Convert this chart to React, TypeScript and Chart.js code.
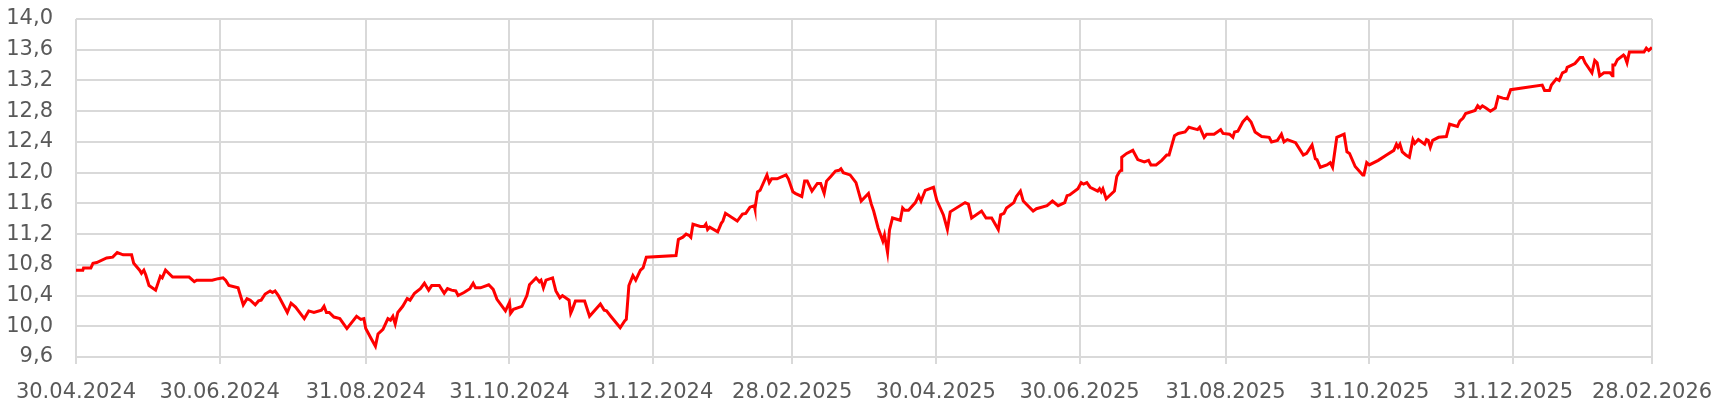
import React, { useEffect, useRef } from "react";
import { Chart, registerables } from "chart.js";

Chart.register(...registerables);

// x values: days elapsed since 30.04.2024
const days: number[] = [
  0, 2.9, 3.2, 6.3, 7.2, 8.8, 13, 15.6, 17.5, 20, 23.6, 24.5, 27, 27.8, 28.8, 29.6, 31, 33.8, 35.8, 36.6,
  38, 41, 48, 50.2, 51.2, 57.8, 60.4, 62.4, 63.5, 64.9, 68.8, 71, 72.6, 74, 76.1, 77.5, 78.6, 80.3, 82.4, 83.4,
  84.5, 85.9, 89.7, 91.3, 93.2, 96.9, 98.8, 101, 104.2, 105.3, 106.3, 107.5, 109.5, 112, 115, 119.1, 120.9, 122.2, 123, 125.1,
  127.1, 128.2, 130.3, 132.4, 133.5, 134.5, 135.5, 136.6, 138.7, 140.6, 141.8, 143.7, 146.2, 147.9, 149.7, 151, 154.2, 156.3, 157.7, 159.4,
  161.2, 162.2, 164.7, 167.2, 168.6, 169.6, 171.7, 175.2, 177.1, 178.7, 182.3, 184, 184.5, 185.7, 189.3, 191.4, 192.5, 195.3, 196.7, 197.4,
  198.4, 199.5, 202.3, 203.7, 205.4, 206.5, 209.3, 210, 210.7, 212, 215.9, 218, 222.6, 224.2, 225.2, 227, 231, 232.9, 233.6, 234.7,
  236.4, 237.6, 239.6, 240.7, 242.1, 254.7, 255.7, 257.6, 259, 260.4, 261, 261.9, 265, 266.7, 267.4, 268.1, 269, 272.4, 273.9, 274.6,
  275.7, 280.7, 282.9, 284.3, 286.1, 287.9, 288.2, 289.3, 290.4, 293.3, 294.3, 295.3, 297.6, 301.4, 302.4, 304.3, 305.3, 308.1, 309.3, 310.4,
  312.4, 314.7, 316.1, 317.6, 318.6, 320.4, 322.4, 323.9, 324.7, 325.7, 328.6, 331.1, 333.3, 336.4, 337.6, 338.6, 340.5, 342.5, 343.2, 344.5,
  345.3, 346.6, 349.9, 350.9, 351.8, 353.4, 356.3, 357.7, 358.7, 360.5, 364, 365.4, 368.2, 369.9, 371.1, 377.4, 378.8, 380.2, 384.4, 386.3,
  388.7, 391.5, 392.5, 393.9, 395, 398.1, 399.2, 400.9, 402.1, 406.3, 407.7, 412.2, 414.5, 416.9, 419.7, 420.7, 421.8, 425.3, 426.7, 427.7,
  429.1, 430.5, 433.7, 434.5, 435.2, 435.9, 437.3, 440.8, 441.8, 442.9, 443.6, 443.9, 446, 448.6, 450.7, 453.5, 455.3, 456.3, 458.5, 460.9,
  463, 464, 466.3, 467.9, 470.8, 472.4, 474.9, 476.1, 477, 478.9, 479.9, 483.1, 484.5, 485.9, 486.9, 489.7, 491.1, 491.8, 493.2, 495.3,
  497.1, 498.8, 500.5, 503.3, 506.5, 507.5, 510, 511.7, 512.8, 514.2, 517.7, 521, 522.4, 524.7, 526.1, 526.8, 528.2, 531, 532.4, 533.4,
  535.2, 538.3, 539.5, 540.6, 543, 546.2, 546.7, 547.9, 549, 552.8, 556.3, 559.4, 560.5, 561.2, 562, 563, 564.5, 566, 567.5, 568.3,
  569.8, 572.5, 573.3, 574, 574.9, 575.9, 578.4, 581.7, 583.1, 586.4, 587.4, 588.8, 589.9, 593.9, 595, 596, 597, 598.5, 600.4, 602.5,
  603.7, 605.7, 607.6, 609, 622.4, 623.4, 625.5, 626.3, 628.4, 629.6, 631, 632.5, 633, 636.3, 638.5, 639.6, 640.6, 643.5, 644.7, 645.7,
  646.8, 648.6, 651.2, 652.2, 652.4, 653.2, 654.3, 656.9, 657.5, 658.4, 659.4, 665.6, 666.6, 667.6, 669,
];

const values: number[] = [
  10.73, 10.73, 10.76, 10.76, 10.82, 10.83, 10.89, 10.9, 10.96, 10.93, 10.93, 10.82, 10.73, 10.69, 10.73, 10.67, 10.53, 10.47, 10.65, 10.63,
  10.73, 10.64, 10.64, 10.58, 10.6, 10.6, 10.62, 10.63, 10.6, 10.53, 10.5, 10.28, 10.36, 10.34, 10.28, 10.33, 10.34, 10.42, 10.46, 10.44,
  10.46, 10.4, 10.18, 10.3, 10.25, 10.1, 10.2, 10.18, 10.21, 10.26, 10.18, 10.18, 10.12, 10.1, 9.97, 10.13, 10.09, 10.1, 9.97, 9.85,
  9.74, 9.9, 9.96, 10.1, 10.08, 10.13, 10.03, 10.18, 10.26, 10.36, 10.34, 10.43, 10.49, 10.56, 10.47, 10.53, 10.53, 10.43, 10.49, 10.47,
  10.46, 10.4, 10.44, 10.49, 10.56, 10.5, 10.5, 10.54, 10.48, 10.35, 10.2, 10.31, 10.17, 10.22, 10.26, 10.4, 10.54, 10.63, 10.58, 10.6,
  10.5, 10.6, 10.63, 10.46, 10.37, 10.4, 10.34, 10.17, 10.22, 10.33, 10.33, 10.13, 10.29, 10.21, 10.2, 10.13, 9.98, 10.07, 10.09, 10.53,
  10.66, 10.6, 10.73, 10.76, 10.9, 10.92, 11.13, 11.16, 11.2, 11.18, 11.16, 11.33, 11.3, 11.3, 11.33, 11.26, 11.29, 11.23, 11.34, 11.37,
  11.47, 11.37, 11.46, 11.47, 11.55, 11.57, 11.53, 11.75, 11.77, 11.97, 11.87, 11.92, 11.92, 11.97, 11.92, 11.75, 11.73, 11.69, 11.89, 11.89,
  11.76, 11.86, 11.86, 11.73, 11.89, 11.95, 12.02, 12.03, 12.05, 12.0, 11.97, 11.87, 11.63, 11.73, 11.59, 11.5, 11.28, 11.11, 11.19, 10.96,
  11.25, 11.41, 11.38, 11.54, 11.51, 11.51, 11.61, 11.7, 11.63, 11.77, 11.81, 11.64, 11.45, 11.26, 11.49, 11.61, 11.59, 11.41, 11.5, 11.41,
  11.41, 11.26, 11.45, 11.47, 11.54, 11.61, 11.69, 11.76, 11.63, 11.5, 11.53, 11.57, 11.63, 11.57, 11.61, 11.7, 11.71, 11.79, 11.87, 11.85,
  11.87, 11.81, 11.76, 11.79, 11.75, 11.79, 11.66, 11.76, 11.95, 12.01, 12.03, 12.2, 12.25, 12.29, 12.17, 12.14, 12.16, 12.1, 12.1, 12.16,
  12.23, 12.23, 12.48, 12.51, 12.53, 12.59, 12.57, 12.56, 12.59, 12.46, 12.5, 12.5, 12.53, 12.56, 12.51, 12.5, 12.46, 12.53, 12.54, 12.66,
  12.72, 12.66, 12.53, 12.47, 12.46, 12.4, 12.42, 12.5, 12.4, 12.43, 12.39, 12.23, 12.25, 12.36, 12.18, 12.17, 12.07, 12.1, 12.13, 12.07,
  12.46, 12.5, 12.27, 12.25, 12.08, 11.97, 11.97, 12.13, 12.1, 12.16, 12.23, 12.29, 12.37, 12.33, 12.37, 12.27, 12.23, 12.2, 12.43, 12.38,
  12.43, 12.37, 12.43, 12.42, 12.33, 12.42, 12.46, 12.47, 12.63, 12.6, 12.67, 12.71, 12.77, 12.81, 12.87, 12.84, 12.87, 12.84, 12.8, 12.84,
  12.99, 12.97, 12.96, 13.08, 13.14, 13.07, 13.07, 13.14, 13.22, 13.2, 13.3, 13.32, 13.37, 13.42, 13.5, 13.5, 13.43, 13.3, 13.46, 13.43,
  13.26, 13.3, 13.3, 13.26, 13.4, 13.4, 13.47, 13.53, 13.51, 13.43, 13.57, 13.57, 13.62, 13.59, 13.63,
];

const tickDays: number[] = [0, 61, 123, 184, 245, 304, 365, 426, 488, 549, 610, 669];
const tickLabels: string[] = [
  "30.04.2024", "30.06.2024", "31.08.2024", "31.10.2024", "31.12.2024", "28.02.2025",
  "30.04.2025", "30.06.2025", "31.08.2025", "31.10.2025", "31.12.2025", "28.02.2026",
];
const yTicks: number[] = [9.6, 10.0, 10.4, 10.8, 11.2, 11.6, 12.0, 12.4, 12.8, 13.2, 13.6, 14.0];

export default function App() {
  const ref = useRef<HTMLCanvasElement | null>(null);

  useEffect(() => {
    if (!ref.current) return;
    const points = days.map((d, i) => ({ x: d, y: values[i] }));
    const font = { family: "'DejaVu Sans', sans-serif", size: 21 };
    const chart = new Chart(ref.current, {
      type: "line",
      data: {
        datasets: [
          {
            data: points,
            borderColor: "#ff0000",
            borderWidth: 3,
            pointRadius: 0,
            tension: 0,
            fill: false,
          },
        ],
      },
      options: {
        animation: false,
        responsive: true,
        maintainAspectRatio: false,
        parsing: false as any,
        layout: { padding: { top: 19, right: 74, bottom: 0, left: 0 } },
        plugins: { legend: { display: false }, tooltip: { enabled: false } },
        scales: {
          x: {
            type: "linear",
            min: tickDays[0],
            max: tickDays[tickDays.length - 1],
            afterBuildTicks: (axis: any) => {
              axis.ticks = tickDays.map((v) => ({ value: v }));
            },
            afterFit: (scale: any) => {
              scale.height = 50;
              scale.paddingLeft = 0;
              scale.paddingRight = 0;
            },
            grid: { color: "#d9d9d9", lineWidth: 2, drawTicks: true, tickLength: 7 },
            border: { display: false },
            ticks: {
              autoSkip: false,
              maxRotation: 0,
              padding: 16,
              color: "#595959",
              font,
              callback: (v: any) => {
                const i = tickDays.indexOf(Number(v));
                return i >= 0 ? tickLabels[i] : "";
              },
            },
          },
          y: {
            type: "linear",
            min: yTicks[0],
            max: yTicks[yTicks.length - 1],
            afterBuildTicks: (axis: any) => {
              axis.ticks = yTicks.map((v) => ({ value: v }));
            },
            afterFit: (scale: any) => {
              scale.width = 76;
              scale.paddingTop = 0;
              scale.paddingBottom = 0;
            },
            grid: { color: "#d9d9d9", lineWidth: 2, drawTicks: false },
            border: { display: false },
            ticks: {
              padding: 23,
              color: "#595959",
              font,
              callback: (v: any) => Number(v).toFixed(1).replace(".", ","),
            },
          },
        },
      },
    });
    return () => chart.destroy();
  }, []);

  return (
    <div style={{ position: "absolute", left: 0, top: 0, width: 1726, height: 407, background: "#fff" }}>
      <canvas ref={ref} />
    </div>
  );
}
